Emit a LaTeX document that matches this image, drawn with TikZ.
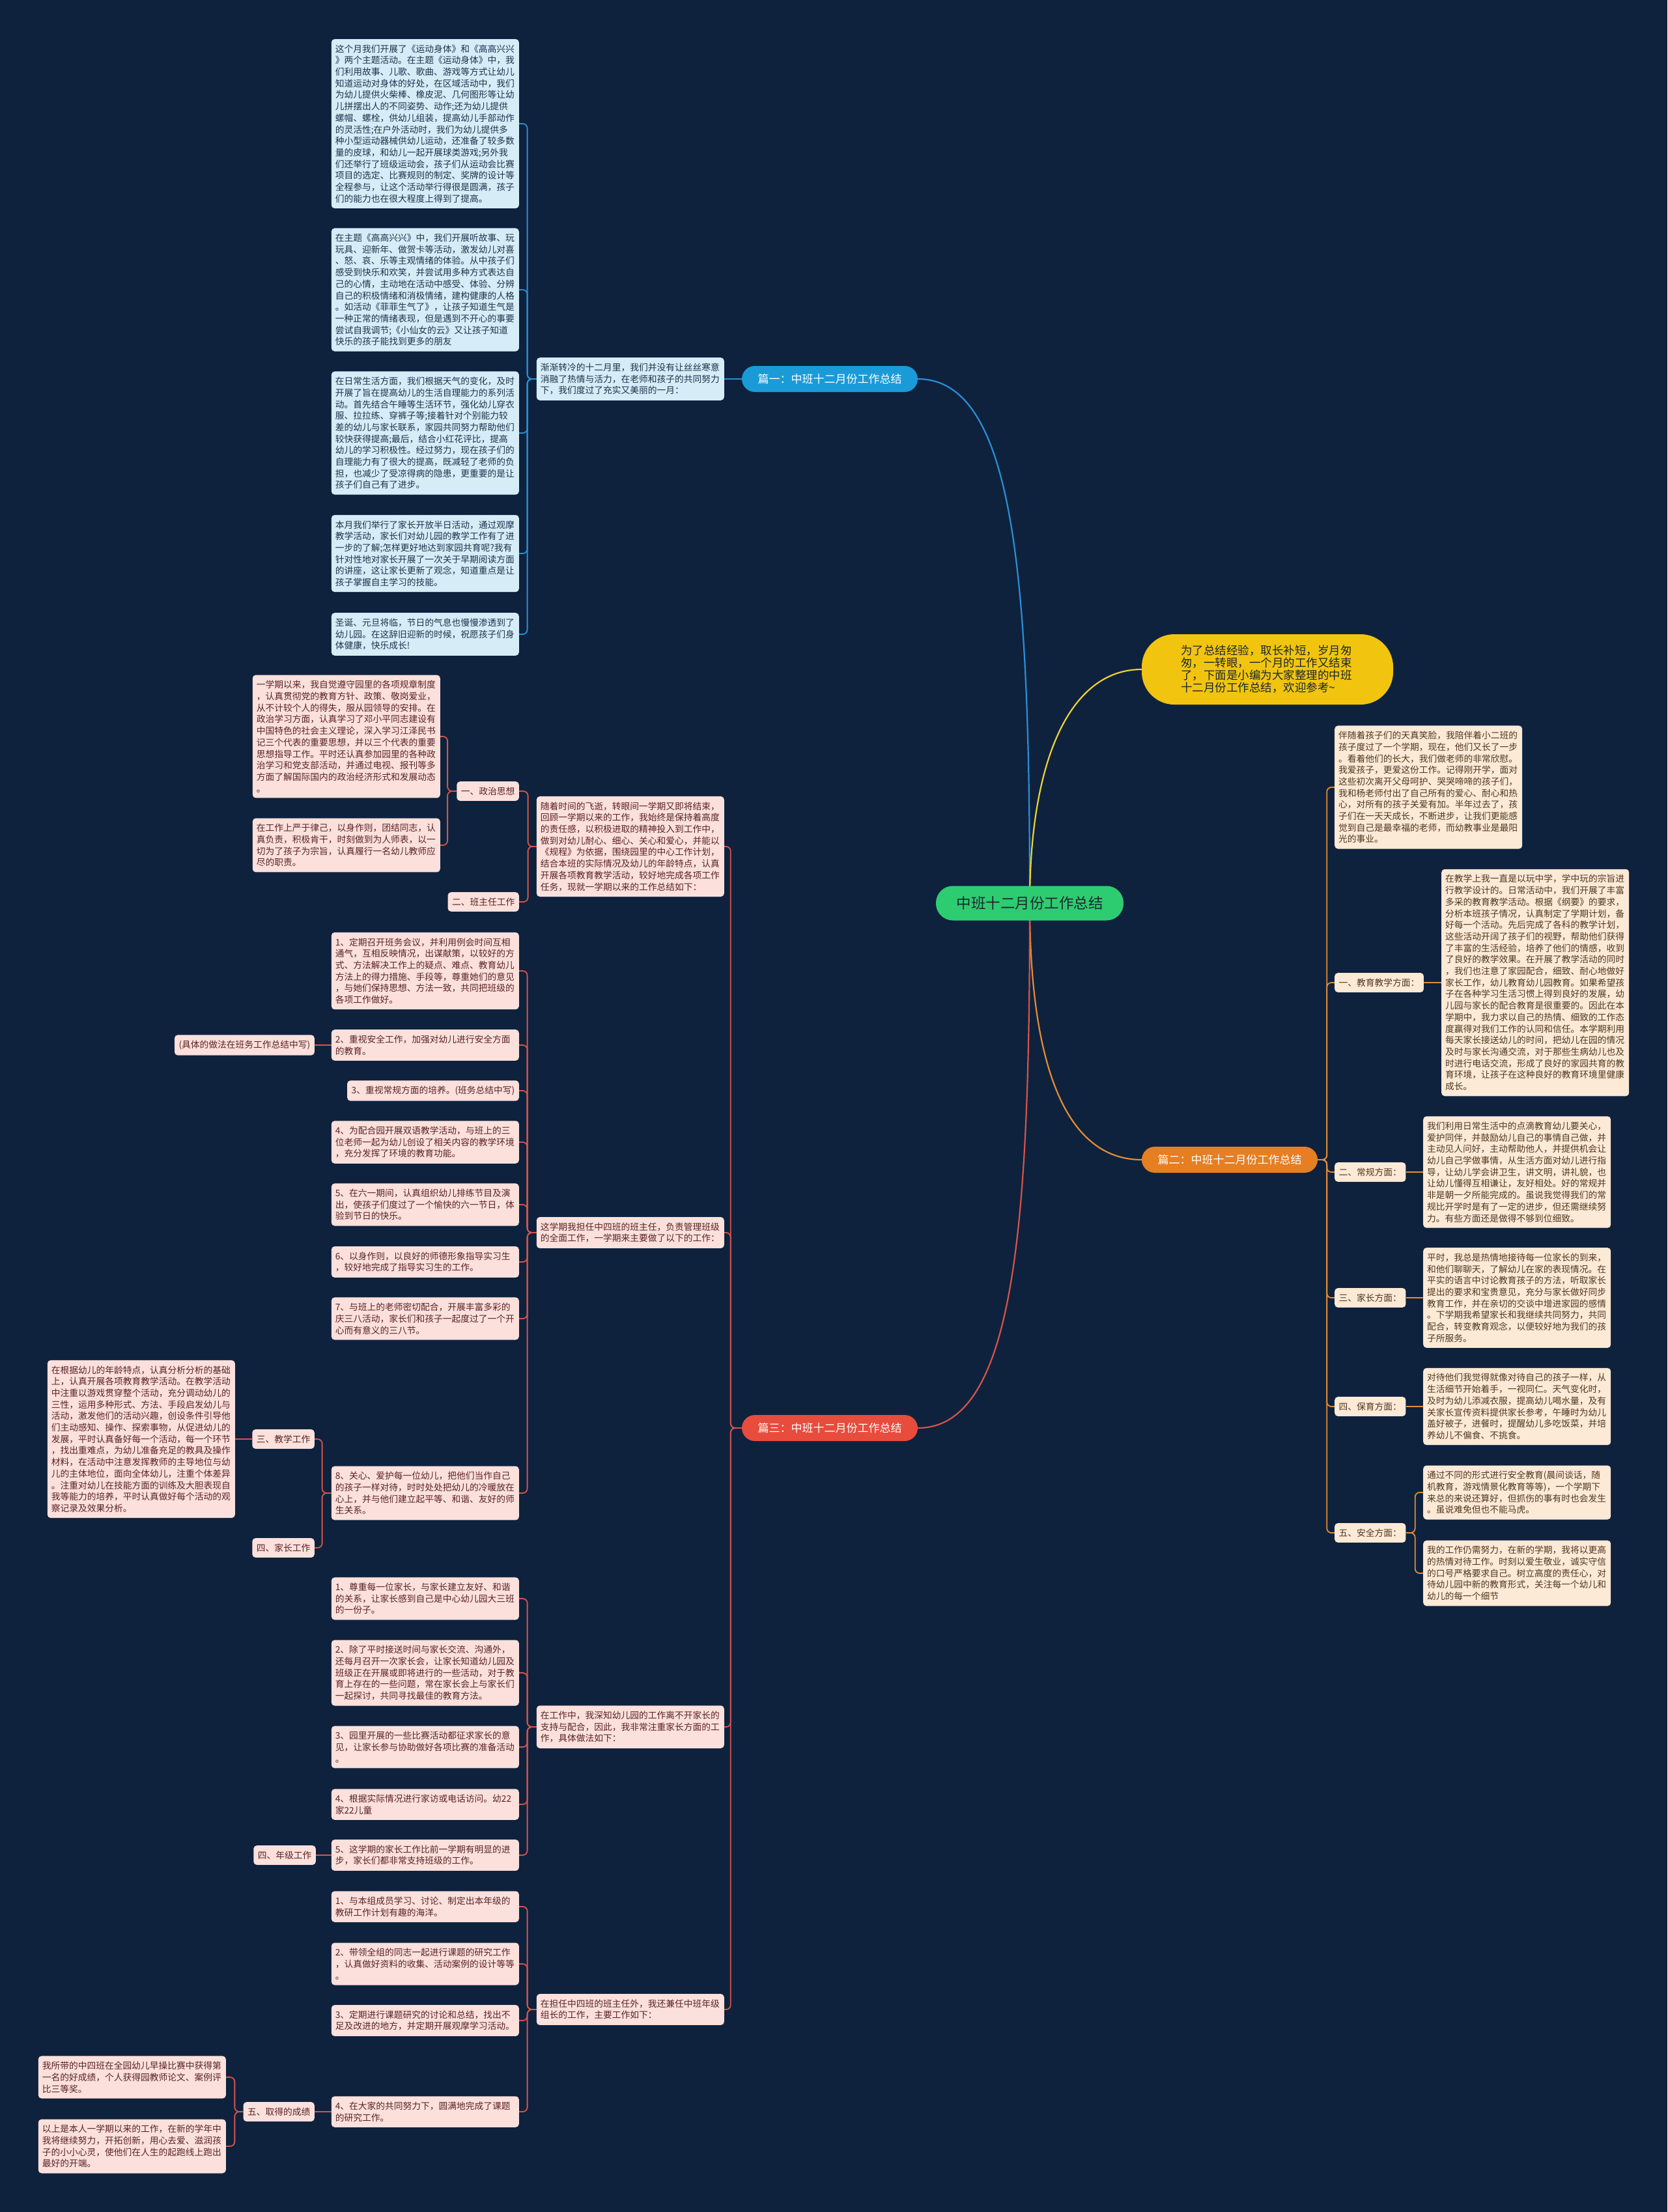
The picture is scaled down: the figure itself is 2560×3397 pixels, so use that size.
\documentclass[tikz,border=0pt]{standalone}
\usepackage{fontspec}
\setmainfont{Noto Sans CJK SC}
\usepackage{xcolor}
\usepackage{tikz}
\usetikzlibrary{backgrounds}
\definecolor{navybg}{RGB}{14,34,62}
\definecolor{rootgreen}{RGB}{46,204,113}
\definecolor{pianblue}{RGB}{27,154,216}
\definecolor{pianorange}{RGB}{230,126,34}
\definecolor{pianred}{RGB}{231,76,60}
\definecolor{sunyellow}{RGB}{241,196,15}
\definecolor{softblue}{RGB}{214,236,247}
\definecolor{softpink}{RGB}{251,224,220}
\definecolor{softpeach}{RGB}{252,233,214}
\definecolor{inkblue}{RGB}{30,50,75}
\definecolor{inkred}{RGB}{90,35,35}
\definecolor{inkbrown}{RGB}{80,55,30}
\definecolor{inkdark}{RGB}{25,40,45}
\definecolor{lineblue}{RGB}{43,143,214}
\definecolor{lineorange}{RGB}{230,140,50}
\definecolor{linered}{RGB}{214,84,74}
\definecolor{lineyellow}{RGB}{240,210,50}

\begin{document}
\begin{tikzpicture}[x=1pt,y=-1pt]
\tikzstyle{box}=[rounded corners=5pt,text width=276pt,inner xsep=6pt,inner ysep=8.5pt,align=left,font={\fontsize{13.75pt}{17.7pt}\selectfont}]
\tikzstyle{bluebox}=[box,fill=softblue,text=inkblue]
\tikzstyle{pinkbox}=[box,fill=softpink,text=inkred]
\tikzstyle{peachbox}=[box,fill=softpeach,text=inkbrown]
\tikzstyle{tag}=[rounded corners=5pt,inner xsep=6.5pt,inner ysep=8.5pt,font={\fontsize{13.75pt}{17.7pt}\selectfont}]
\tikzstyle{pinktag}=[tag,fill=softpink,text=inkred]
\tikzstyle{peachtag}=[tag,fill=softpeach,text=inkbrown]
\tikzstyle{pill}=[rounded corners=20pt,minimum width=270pt,minimum height=40pt,text=white,font={\fontsize{17pt}{19pt}\selectfont}]
\tikzstyle{trunk}=[line width=2.2pt]
\tikzstyle{bluelink}=[draw=lineblue,line width=1.8pt,rounded corners=7pt]
\tikzstyle{orangelink}=[draw=lineorange,line width=1.8pt,rounded corners=7pt]
\tikzstyle{redlink}=[draw=linered,line width=1.8pt,rounded corners=7pt]
\useasboundingbox (0,0) rectangle (2560,3397);
\begin{pgfonlayer}{background}
\fill[navybg] (0,0) rectangle (2560,3397);
\end{pgfonlayer}
% centre and main branches
\node[fill=rootgreen,rounded corners=26pt,minimum width=288pt,minimum height=53pt,text=inkdark,font={\fontsize{22.5pt}{24pt}\selectfont}] (root) at (1581,1387) {中班十二月份工作总结};
\node[fill=sunyellow,rounded corners=50pt,minimum width=386pt,minimum height=108pt,text width=266pt,align=left,text=inkdark,font={\fontsize{17.5pt}{19pt}\selectfont}] (lead) at (1946,1028) {为了总结经验，取长补短，岁月匆\\匆，一转眼，一个月的工作又结束\\了，下面是小编为大家整理的中班\\十二月份工作总结，欢迎参考\textasciitilde};
\node[pill,fill=pianblue] (pianyi) at (1274,582) {篇一：中班十二月份工作总结};
\node[pill,fill=pianorange] (pianer) at (1888,1781) {篇二：中班十二月份工作总结};
\node[pill,fill=pianred] (piansan) at (1274,2193) {篇三：中班十二月份工作总结};
% part one
\node[bluebox,anchor=east] (intro) at (1112,582) {渐渐转冷的十二月里，我们并没有让丝丝寒意\\消融了热情与活力，在老师和孩子的共同努力\\下，我们度过了充实又美丽的一月：};
\node[bluebox,anchor=east] (a1) at (797,190) {这个月我们开展了《运动身体》和《高高兴兴\\》两个主题活动。在主题《运动身体》中，我\\们利用故事、儿歌、歌曲、游戏等方式让幼儿\\知道运动对身体的好处，在区域活动中，我们\\为幼儿提供火柴棒、橡皮泥、几何图形等让幼\\儿拼摆出人的不同姿势、动作;还为幼儿提供\\螺帽、螺栓，供幼儿组装，提高幼儿手部动作\\的灵活性;在户外活动时，我们为幼儿提供多\\种小型运动器械供幼儿运动，还准备了较多数\\量的皮球，和幼儿一起开展球类游戏;另外我\\们还举行了班级运动会，孩子们从运动会比赛\\项目的选定、比赛规则的制定、奖牌的设计等\\全程参与，让这个活动举行得很是圆满，孩子\\们的能力也在很大程度上得到了提高。};
\node[bluebox,anchor=east] (a2) at (797,445) {在主题《高高兴兴》中，我们开展听故事、玩\\玩具、迎新年、做贺卡等活动，激发幼儿对喜\\、怒、哀、乐等主观情绪的体验。从中孩子们\\感受到快乐和欢笑，并尝试用多种方式表达自\\己的心情，主动地在活动中感受、体验、分辨\\自己的积极情绪和消极情绪，建构健康的人格\\。如活动《菲菲生气了》，让孩子知道生气是\\一种正常的情绪表现，但是遇到不开心的事要\\尝试自我调节;《小仙女的云》又让孩子知道\\快乐的孩子能找到更多的朋友};
\node[bluebox,anchor=east] (a3) at (797,665) {在日常生活方面，我们根据天气的变化，及时\\开展了旨在提高幼儿的生活自理能力的系列活\\动。首先结合午睡等生活环节，强化幼儿穿衣\\服、拉拉练、穿裤子等;接着针对个别能力较\\差的幼儿与家长联系，家园共同努力帮助他们\\较快获得提高;最后，结合小红花评比，提高\\幼儿的学习积极性。经过努力，现在孩子们的\\自理能力有了很大的提高，既减轻了老师的负\\担，也减少了受凉得病的隐患，更重要的是让\\孩子们自己有了进步。};
\node[bluebox,anchor=east] (a4) at (797,850) {本月我们举行了家长开放半日活动，通过观摩\\教学活动，家长们对幼儿园的教学工作有了进\\一步的了解;怎样更好地达到家园共育呢?我有\\针对性地对家长开展了一次关于早期阅读方面\\的讲座，这让家长更新了观念，知道重点是让\\孩子掌握自主学习的技能。};
\node[bluebox,anchor=east] (a5) at (797,974) {圣诞、元旦将临，节日的气息也慢慢渗透到了\\幼儿园。在这辞旧迎新的时候，祝愿孩子们身\\体健康，快乐成长!};
% part two
\node[peachbox,anchor=west] (b0) at (2049,1209) {伴随着孩子们的天真笑脸，我陪伴着小二班的\\孩子度过了一个学期，现在，他们又长了一步\\。看着他们的长大，我们做老师的非常欣慰。\\我爱孩子，更爱这份工作。记得刚开学，面对\\这些初次离开父母呵护、哭哭啼啼的孩子们，\\我和杨老师付出了自己所有的爱心、耐心和热\\心，对所有的孩子关爱有加。半年过去了，孩\\子们在一天天成长，不断进步，让我们更能感\\觉到自己是最幸福的老师，而幼教事业是最阳\\光的事业。};
\node[peachtag,anchor=west] (b1tag) at (2049,1509) {一、教育教学方面：};
\node[peachbox,anchor=west] (b1box) at (2213,1509) {在教学上我一直是以玩中学，学中玩的宗旨进\\行教学设计的。日常活动中，我们开展了丰富\\多采的教育教学活动。根据《纲要》的要求，\\分析本班孩子情况，认真制定了学期计划，备\\好每一个活动。先后完成了各科的教学计划，\\这些活动开阔了孩子们的视野，帮助他们获得\\了丰富的生活经验，培养了他们的情感，收到\\了良好的教学效果。在开展了教学活动的同时\\，我们也注意了家园配合，细致、耐心地做好\\家长工作，幼儿教育幼儿园教育。如果希望孩\\子在各种学习生活习惯上得到良好的发展，幼\\儿园与家长的配合教育是很重要的。因此在本\\学期中，我力求以自己的热情、细致的工作态\\度赢得对我们工作的认同和信任。本学期利用\\每天家长接送幼儿的时间，把幼儿在园的情况\\及时与家长沟通交流，对于那些生病幼儿也及\\时进行电话交流，形成了良好的家园共育的教\\育环境，让孩子在这种良好的教育环境里健康\\成长。};
\node[peachtag,anchor=west] (b2tag) at (2049,1800) {二、常规方面：};
\node[peachbox,anchor=west] (b2box) at (2185,1800) {我们利用日常生活中的点滴教育幼儿要关心，\\爱护同伴，并鼓励幼儿自己的事情自己做，并\\主动见人问好，主动帮助他人，并提供机会让\\幼儿自己学做事情，从生活方面对幼儿进行指\\导，让幼儿学会讲卫生，讲文明，讲礼貌，也\\让幼儿懂得互相谦让，友好相处。好的常规并\\非是朝一夕所能完成的。虽说我觉得我们的常\\规比开学时是有了一定的进步，但还需继续努\\力。有些方面还是做得不够到位细致。};
\node[peachtag,anchor=west] (b3tag) at (2049,1993) {三、家长方面：};
\node[peachbox,anchor=west] (b3box) at (2185,1993) {平时，我总是热情地接待每一位家长的到来，\\和他们聊聊天，了解幼儿在家的表现情况。在\\平实的语言中讨论教育孩子的方法，听取家长\\提出的要求和宝贵意见，充分与家长做好同步\\教育工作，并在亲切的交谈中增进家园的感情\\。下学期我希望家长和我继续共同努力，共同\\配合，转变教育观念，以便较好地为我们的孩\\子所服务。};
\node[peachtag,anchor=west] (b4tag) at (2049,2160) {四、保育方面：};
\node[peachbox,anchor=west] (b4box) at (2185,2160) {对待他们我觉得就像对待自己的孩子一样，从\\生活细节开始着手，一视同仁。天气变化时，\\及时为幼儿添减衣服，提高幼儿喝水量，及有\\关家长宣传资料提供家长参考，午睡时为幼儿\\盖好被子，进餐时，提醒幼儿多吃饭菜，并培\\养幼儿不偏食、不挑食。};
\node[peachtag,anchor=west] (b5tag) at (2049,2354) {五、安全方面：};
\node[peachbox,anchor=west] (b5a) at (2185,2292) {通过不同的形式进行安全教育(晨间谈话，随\\机教育，游戏情景化教育等等)，一个学期下\\来总的来说还算好，但抓伤的事有时也会发生\\。虽说难免但也不能马虎。};
\node[peachbox,anchor=west] (b5b) at (2185,2416) {我的工作仍需努力，在新的学期，我将以更高\\的热情对待工作。时刻以爱生敬业，诚实守信\\的口号严格要求自己。树立高度的责任心，对\\待幼儿园中新的教育形式，关注每一个幼儿和\\幼儿的每一个细节};
% part three
\node[pinkbox,anchor=east] (c1) at (1112,1300) {随着时间的飞逝，转眼间一学期又即将结束，\\回顾一学期以来的工作，我始终是保持着高度\\的责任感，以积极进取的精神投入到工作中，\\做到对幼儿耐心、细心、关心和爱心，并能以\\《规程》为依据，围绕园里的中心工作计划，\\结合本班的实际情况及幼儿的年龄特点，认真\\开展各项教育教学活动，较好地完成各项工作\\任务，现就一学期以来的工作总结如下：};
\node[pinktag,anchor=east] (zztag) at (797,1215) {一、政治思想};
\node[pinkbox,anchor=east] (c1a) at (676,1131) {一学期以来，我自觉遵守园里的各项规章制度\\，认真贯彻党的教育方针、政策、敬岗爱业，\\从不计较个人的得失，服从园领导的安排。在\\政治学习方面，认真学习了邓小平同志建设有\\中国特色的社会主义理论，深入学习江泽民书\\记三个代表的重要思想，并以三个代表的重要\\思想指导工作。平时还认真参加园里的各种政\\治学习和党支部活动，并通过电视、报刊等多\\方面了解国际国内的政治经济形式和发展动态\\。};
\node[pinkbox,anchor=east] (c1b) at (676,1298) {在工作上严于律己，以身作则，团结同志，认\\真负责，积极肯干，时刻做到为人师表，以一\\切为了孩子为宗旨，认真履行一名幼儿教师应\\尽的职责。};
\node[pinktag,anchor=east] (bztag) at (797,1385) {二、班主任工作};
\node[pinkbox,anchor=east] (c2) at (1112,1893) {这学期我担任中四班的班主任，负责管理班级\\的全面工作，一学期来主要做了以下的工作：};
\node[pinkbox,anchor=east] (i1) at (797,1491) {1、定期召开班务会议，并利用例会时间互相\\通气，互相反映情况，出谋献策，以较好的方\\式、方法解决工作上的疑点、难点、教育幼儿\\方法上的得力措施、手段等，尊重她们的意见\\，与她们保持思想、方法一致，共同把班级的\\各项工作做好。};
\node[pinkbox,anchor=east] (i2) at (797,1605) {2、重视安全工作，加强对幼儿进行安全方面\\的教育。};
\node[pinktag,anchor=east] (juti) at (483,1605) {(具体的做法在班务工作总结中写)};
\node[pinktag,anchor=east] (i3) at (797,1675) {3、重视常规方面的培养。(班务总结中写)};
\node[pinkbox,anchor=east] (i4) at (797,1754) {4、为配合园开展双语教学活动，与班上的三\\位老师一起为幼儿创设了相关内容的教学环境\\，充分发挥了环境的教育功能。};
\node[pinkbox,anchor=east] (i5) at (797,1850) {5、在六一期间，认真组织幼儿排练节目及演\\出，使孩子们度过了一个愉快的六一节日，体\\验到节日的快乐。};
\node[pinkbox,anchor=east] (i6) at (797,1938) {6、以身作则，以良好的师德形象指导实习生\\，较好地完成了指导实习生的工作。};
\node[pinkbox,anchor=east] (i7) at (797,2025) {7、与班上的老师密切配合，开展丰富多彩的\\庆三八活动，家长们和孩子一起度过了一个开\\心而有意义的三八节。};
\node[pinkbox,anchor=east] (i8) at (797,2293) {8、关心、爱护每一位幼儿，把他们当作自己\\的孩子一样对待，时时处处把幼儿的冷暖放在\\心上，并与他们建立起平等、和谐、友好的师\\生关系。};
\node[pinktag,anchor=east] (jxtag) at (483,2210) {三、教学工作};
\node[pinkbox,anchor=east] (jxbox) at (361,2210) {在根据幼儿的年龄特点，认真分析分析的基础\\上，认真开展各项教育教学活动。在教学活动\\中注重以游戏贯穿整个活动，充分调动幼儿的\\三性，运用多种形式、方法、手段启发幼儿与\\活动，激发他们的活动兴趣，创设条件引导他\\们主动感知、操作、探索事物，从促进幼儿的\\发展，平时认真备好每一个活动，每一个环节\\，找出重难点，为幼儿准备充足的教具及操作\\材料，在活动中注意发挥教师的主导地位与幼\\儿的主体地位，面向全体幼儿，注重个体差异\\。注重对幼儿在技能方面的训练及大胆表现自\\我等能力的培养，平时认真做好每个活动的观\\察记录及效果分析。};
\node[pinktag,anchor=east] (jztag) at (483,2377) {四、家长工作};
\node[pinkbox,anchor=east] (c3) at (1112,2652) {在工作中，我深知幼儿园的工作离不开家长的\\支持与配合，因此，我非常注重家长方面的工\\作，具体做法如下：};
\node[pinkbox,anchor=east] (p1) at (797,2455) {1、尊重每一位家长，与家长建立友好、和谐\\的关系，让家长感到自己是中心幼儿园大三班\\的一份子。};
\node[pinkbox,anchor=east] (p2) at (797,2569) {2、除了平时接送时间与家长交流、沟通外，\\还每月召开一次家长会，让家长知道幼儿园及\\班级正在开展或即将进行的一些活动，对于教\\育上存在的一些问题，常在家长会上与家长们\\一起探讨，共同寻找最佳的教育方法。};
\node[pinkbox,anchor=east] (p3) at (797,2683) {3、园里开展的一些比赛活动都征求家长的意\\见，让家长参与协助做好各项比赛的准备活动\\。};
\node[pinkbox,anchor=east] (p4) at (797,2771) {4、根据实际情况进行家访或电话访问。幼22\\家22儿童};
\node[pinkbox,anchor=east] (p5) at (797,2849) {5、这学期的家长工作比前一学期有明显的进\\步，家长们都非常支持班级的工作。};
\node[pinktag,anchor=east] (njtag) at (485,2849) {四、年级工作};
\node[pinkbox,anchor=east] (c4) at (1112,3086) {在担任中四班的班主任外，我还兼任中班年级\\组长的工作，主要工作如下：};
\node[pinkbox,anchor=east] (q1) at (797,2928) {1、与本组成员学习、讨论、制定出本年级的\\教研工作计划有趣的海洋。};
\node[pinkbox,anchor=east] (q2) at (797,3016) {2、带领全组的同志一起进行课题的研究工作\\，认真做好资料的收集、活动案例的设计等等\\。};
\node[pinkbox,anchor=east] (q3) at (797,3103) {3、定期进行课题研究的讨论和总结，找出不\\足及改进的地方，并定期开展观摩学习活动。};
\node[pinkbox,anchor=east] (q4) at (797,3243) {4、在大家的共同努力下，圆满地完成了课题\\的研究工作。};
\node[pinktag,anchor=east] (cjtag) at (483,3243) {五、取得的成绩};
\node[pinkbox,anchor=east] (r1) at (347,3190) {我所带的中四班在全园幼儿早操比赛中获得第\\一名的好成绩，个人获得园教师论文、案例评\\比三等奖。};
\node[pinkbox,anchor=east] (r2) at (347,3296) {以上是本人一学期以来的工作，在新的学年中\\我将继续努力，开拓创新，用心去爱、滋润孩\\子的小小心灵，使他们在人生的起跑线上跑出\\最好的开端。};
% connectors
\begin{pgfonlayer}{background}
\draw[trunk,draw=lineblue] (root.center) .. controls +(0,-490) and +(150,0) .. (pianyi.east);
\draw[trunk,draw=lineyellow] (root.center) .. controls +(0,-220) and +(-110,0) .. (lead.west);
\draw[trunk,draw=lineorange] (root.center) .. controls +(0,240) and +(-120,0) .. (pianer.west);
\draw[trunk,draw=linered] (root.center) .. controls +(0,490) and +(150,0) .. (piansan.east);
\draw[bluelink] (pianyi.west) -- (intro.east);
\draw[bluelink] (intro.west) -- ++(-14,0) |- (a1.east);
\draw[bluelink] (intro.west) -- ++(-14,0) |- (a2.east);
\draw[bluelink] (intro.west) -- ++(-14,0) |- (a3.east);
\draw[bluelink] (intro.west) -- ++(-14,0) |- (a4.east);
\draw[bluelink] (intro.west) -- ++(-14,0) |- (a5.east);
\draw[orangelink] (pianer.east) -- ++(14,0) |- (b0.west);
\draw[orangelink] (pianer.east) -- ++(14,0) |- (b1tag.west);
\draw[orangelink] (pianer.east) -- ++(14,0) |- (b2tag.west);
\draw[orangelink] (pianer.east) -- ++(14,0) |- (b3tag.west);
\draw[orangelink] (pianer.east) -- ++(14,0) |- (b4tag.west);
\draw[orangelink] (pianer.east) -- ++(14,0) |- (b5tag.west);
\draw[orangelink] (b1tag.east) -- (b1box.west);
\draw[orangelink] (b2tag.east) -- (b2box.west);
\draw[orangelink] (b3tag.east) -- (b3box.west);
\draw[orangelink] (b4tag.east) -- (b4box.west);
\draw[orangelink] (b5tag.east) -- ++(14,0) |- (b5a.west);
\draw[orangelink] (b5tag.east) -- ++(14,0) |- (b5b.west);
\draw[redlink] (piansan.west) -- ++(-17,0) |- (c1.east);
\draw[redlink] (piansan.west) -- ++(-17,0) |- (c2.east);
\draw[redlink] (piansan.west) -- ++(-17,0) |- (c3.east);
\draw[redlink] (piansan.west) -- ++(-17,0) |- (c4.east);
\draw[redlink] (c1.west) -- ++(-13,0) |- (zztag.east);
\draw[redlink] (c1.west) -- ++(-13,0) |- (bztag.east);
\draw[redlink] (zztag.west) -- ++(-14,0) |- (c1a.east);
\draw[redlink] (zztag.west) -- ++(-14,0) |- (c1b.east);
\draw[redlink] (c2.west) -- ++(-14,0) |- (i1.east);
\draw[redlink] (c2.west) -- ++(-14,0) |- (i2.east);
\draw[redlink] (c2.west) -- ++(-14,0) |- (i3.east);
\draw[redlink] (c2.west) -- ++(-14,0) |- (i4.east);
\draw[redlink] (c2.west) -- ++(-14,0) |- (i5.east);
\draw[redlink] (c2.west) -- ++(-14,0) |- (i6.east);
\draw[redlink] (c2.west) -- ++(-14,0) |- (i7.east);
\draw[redlink] (c2.west) -- ++(-14,0) |- (i8.east);
\draw[redlink] (i2.west) -- (juti.east);
\draw[redlink] (i8.west) -- ++(-14,0) |- (jxtag.east);
\draw[redlink] (i8.west) -- ++(-14,0) |- (jztag.east);
\draw[redlink] (jxtag.west) -- (jxbox.east);
\draw[redlink] (c3.west) -- ++(-14,0) |- (p1.east);
\draw[redlink] (c3.west) -- ++(-14,0) |- (p2.east);
\draw[redlink] (c3.west) -- ++(-14,0) |- (p3.east);
\draw[redlink] (c3.west) -- ++(-14,0) |- (p4.east);
\draw[redlink] (c3.west) -- ++(-14,0) |- (p5.east);
\draw[redlink] (p5.west) -- (njtag.east);
\draw[redlink] (c4.west) -- ++(-14,0) |- (q1.east);
\draw[redlink] (c4.west) -- ++(-14,0) |- (q2.east);
\draw[redlink] (c4.west) -- ++(-14,0) |- (q3.east);
\draw[redlink] (c4.west) -- ++(-14,0) |- (q4.east);
\draw[redlink] (q4.west) -- (cjtag.east);
\draw[redlink] (cjtag.west) -- ++(-13,0) |- (r1.east);
\draw[redlink] (cjtag.west) -- ++(-13,0) |- (r2.east);
\end{pgfonlayer}
\end{tikzpicture}
\end{document}
